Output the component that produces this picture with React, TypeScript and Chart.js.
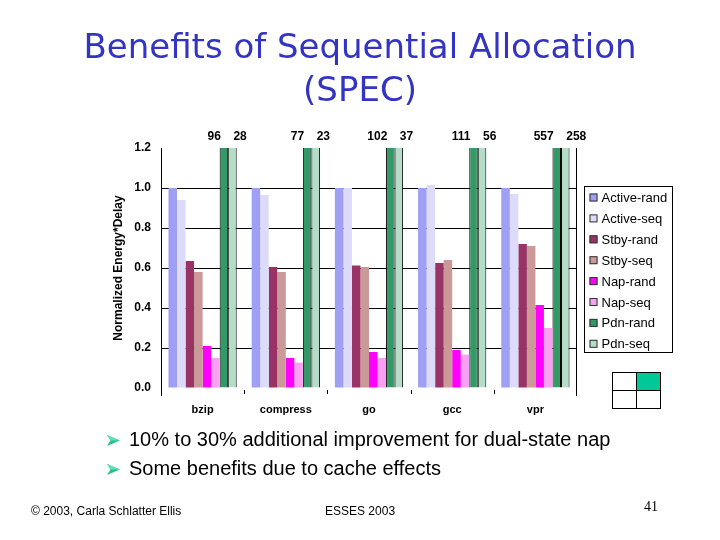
import React, { useEffect, useRef } from "react";
import { Chart, registerables } from "chart.js";

Chart.register(...registerables);

const categories = ["bzip", "compress", "go", "gcc", "vpr"];
const seriesNames = ["Active-rand", "Active-seq", "Stby-rand", "Stby-seq", "Nap-rand", "Nap-seq", "Pdn-rand", "Pdn-seq"];
const activeRand = [1.0, 1.0, 1.0, 1.0, 1.0];
const activeSeq = [0.94, 0.965, 1.0, 1.015, 0.97];
const stbyRand = [0.635, 0.605, 0.613, 0.625, 0.72];
const stbySeq = [0.58, 0.58, 0.605, 0.64, 0.71];
const napRand = [0.21, 0.15, 0.18, 0.19, 0.415];
const napSeq = [0.15, 0.127, 0.15, 0.167, 0.3];
const pdnRand = [96, 77, 102, 111, 557];
const pdnSeq = [28, 23, 37, 56, 258];
const yTicks = [0, 0.2, 0.4, 0.6, 0.8, 1.0, 1.2];
const seriesColors = ["#9f9ff6", "#dcdcfa", "#993366", "#cc9999", "#ff00ff", "#f9a0f2", "#339966", "#b4dcc6"];
const outlinedSeries = ["Pdn-rand", "Pdn-seq"];
const bullets = ["10% to 30% additional improvement for dual-state nap", "Some benefits due to cache effects"];

const FONT = '"Liberation Sans", Arial, sans-serif';

const decorPlugin = {
  id: "slideDecor",
  afterDatasetsDraw(chart: any) {
    const { ctx, chartArea } = chart;
    const { left, right, top, bottom } = chartArea;
    const yMax = chart.scales.y.max;
    ctx.save();
    // axis lines
    ctx.strokeStyle = "#000";
    ctx.lineWidth = 1;
    ctx.beginPath();
    ctx.moveTo(Math.round(left) + 0.5, top);
    ctx.lineTo(Math.round(left) + 0.5, bottom + 8);
    ctx.moveTo(Math.round(right) - 0.5, top);
    ctx.lineTo(Math.round(right) - 0.5, bottom + 8);
    const n = chart.data.labels.length;
    for (let i = 1; i < n; i++) {
      const x = Math.round(left + (i * (right - left)) / n) + 0.5;
      ctx.moveTo(x, bottom + 2);
      ctx.lineTo(x, bottom + 6);
    }
    ctx.stroke();

    // labels for clipped bars
    ctx.fillStyle = "#000";
    ctx.font = "bold 12px " + FONT;
    ctx.textBaseline = "middle";
    chart.data.datasets.forEach((ds: any, di: number) => {
      const meta = chart.getDatasetMeta(di);
      ds.data.forEach((v: number, j: number) => {
        if (v > yMax) {
          const isRand = ds.label.endsWith("rand");
          ctx.textAlign = isRand ? "right" : "left";
          ctx.fillText(String(v), meta.data[j].x + (isRand ? -3 : 1), top - 11);
        }
      });
    });

    // legend
    const boxL = Math.round(right) + 7.5;
    const boxT = top + 38.5;
    const boxW = 88;
    const boxH = 166;
    ctx.strokeStyle = "#000";
    ctx.strokeRect(boxL, boxT, boxW, boxH);
    ctx.font = "13px " + FONT;
    ctx.textAlign = "left";
    chart.data.datasets.forEach((ds: any, di: number) => {
      const cy = boxT + 11 + di * 20.9;
      ctx.fillStyle = ds.backgroundColor;
      ctx.fillRect(boxL + 5, cy - 4, 8, 8);
      ctx.strokeStyle = "#333";
      ctx.strokeRect(boxL + 5.5, cy - 3.5, 7, 7);
      ctx.fillStyle = "#000";
      ctx.fillText(ds.label, boxL + 17, cy + 1);
    });
    ctx.restore();
  },
};

function BarChart() {
  const ref = useRef<HTMLCanvasElement | null>(null);
  useEffect(() => {
    if (!ref.current) return;
    const allSeries = [activeRand, activeSeq, stbyRand, stbySeq, napRand, napSeq, pdnRand, pdnSeq];
    const chart = new Chart(ref.current, {
      type: "bar",
      data: {
        labels: categories,
        datasets: seriesNames.map((name, i) => {
          const outlined = outlinedSeries.includes(name);
          return {
            label: name,
            data: allSeries[i],
            backgroundColor: seriesColors[i],
            borderColor: "#000",
            borderWidth: outlined ? { left: 1, right: 1, top: 0, bottom: 0 } : 0,
            borderSkipped: false,
            barPercentage: 1,
            categoryPercentage: 0.82,
            clip: 0,
          };
        }),
      },
      options: {
        responsive: false,
        animation: false,
        devicePixelRatio: 1,
        layout: { padding: { left: 100, right: 143, top: 148, bottom: 122 } },
        plugins: { legend: { display: false }, tooltip: { enabled: false } },
        scales: {
          x: {
            grid: { display: false, drawTicks: false },
            border: { display: false },
            ticks: { color: "#000", font: { family: FONT, size: 11, weight: "bold" }, padding: 15 },
            afterFit: (s: any) => {
              s.height = 30;
            },
          },
          y: {
            min: 0,
            max: 1.2,
            afterBuildTicks: (s: any) => {
              s.ticks = yTicks.map((v) => ({ value: v }));
            },
            grid: {
              drawTicks: false,
              color: (c: any) => (c.tick && (c.tick.value <= 0.001 || c.tick.value >= 1.19) ? "rgba(0,0,0,0)" : "#000"),
              lineWidth: 1,
            },
            border: { display: false },
            ticks: {
              color: "#000",
              font: { family: FONT, size: 12, weight: "bold" },
              padding: 10,
              callback: (v: any) => Number(v).toFixed(1),
            },
            title: {
              display: true,
              text: "Normalized Energy*Delay",
              color: "#000",
              font: { family: FONT, size: 12, weight: "bold" },
              padding: { top: 11, bottom: 0 },
            },
            afterFit: (s: any) => {
              s.width = 61;
            },
          },
        },
      },
      plugins: [decorPlugin],
    } as any);
    return () => chart.destroy();
  }, []);
  return <canvas ref={ref} width={720} height={540} style={{ position: "absolute", left: 0, top: 0, width: 720, height: 540 }} />;
}

function Arrow({ top }: { top: number }) {
  return (
    <svg width={13} height={11} style={{ position: "absolute", left: 107, top }} viewBox="0 0 13 11">
      <polygon points="0,0 13,5.5 0,11 3.5,5.5" fill="#2bbf8e" />
      <polygon points="0,0 13,5.5 3.5,5.5" fill="#5fe0b0" />
    </svg>
  );
}

export default function App() {
  return (
    <div style={{ position: "absolute", left: 0, top: 0, width: 720, height: 540, background: "#fff", overflow: "hidden", fontFamily: FONT }}>
      <BarChart />
      <div
        style={{
          position: "absolute",
          left: 0,
          top: 24.9,
          width: 720,
          textAlign: "center",
          fontFamily: '"DejaVu Sans", sans-serif',
          fontSize: 34,
          lineHeight: "43.4px",
          color: "#3434c4",
          whiteSpace: "nowrap",
        }}
      >
        <div>Benefits of Sequential Allocation</div>
        <div>(SPEC)</div>
      </div>

      {bullets.map((b, i) => (
        <React.Fragment key={i}>
          <Arrow top={435 + i * 29.3} />
          <div style={{ position: "absolute", left: 129, top: 428.8 + i * 29.3, fontSize: 20, lineHeight: "20px", color: "#000", whiteSpace: "nowrap" }}>{b}</div>
        </React.Fragment>
      ))}

      <div style={{ position: "absolute", left: 612, top: 372, width: 49, height: 37 }}>
        <div style={{ position: "absolute", left: 0, top: 0, width: 49, height: 37, border: "1px solid #000", boxSizing: "border-box" }} />
        <div style={{ position: "absolute", left: 24, top: 0, width: 25, height: 19, background: "#00c896", border: "1px solid #000", boxSizing: "border-box" }} />
        <div style={{ position: "absolute", left: 24, top: 0, width: 1, height: 37, background: "#000" }} />
        <div style={{ position: "absolute", left: 0, top: 18, width: 49, height: 1, background: "#000" }} />
      </div>

      <div style={{ position: "absolute", left: 31, top: 504, fontSize: 12, lineHeight: "normal", color: "#000", whiteSpace: "nowrap" }}>© 2003, Carla Schlatter Ellis</div>
      <div style={{ position: "absolute", left: 325, top: 504, fontSize: 12, lineHeight: "normal", color: "#000", whiteSpace: "nowrap" }}>ESSES 2003</div>
      <div style={{ position: "absolute", left: 644, top: 499, fontSize: 14, lineHeight: "normal", fontFamily: '"Liberation Serif", serif', color: "#000" }}>41</div>
    </div>
  );
}
